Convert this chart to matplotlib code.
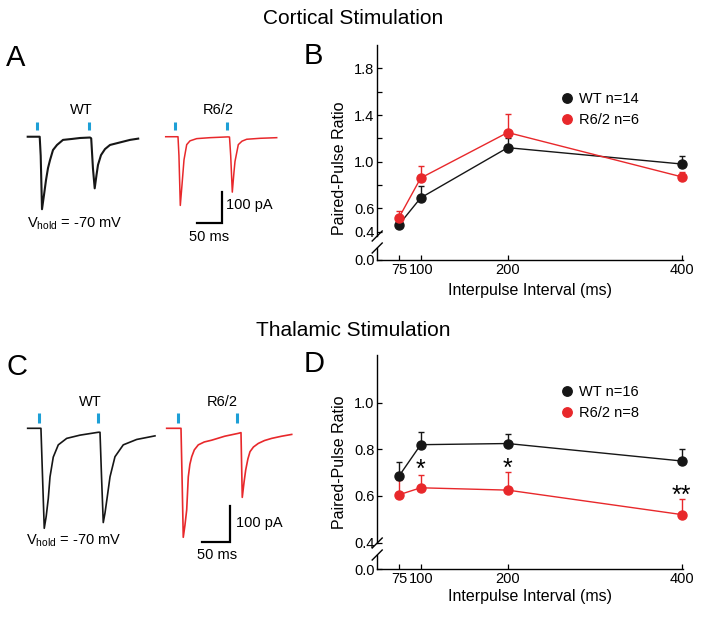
import matplotlib
matplotlib.use('Agg')
import matplotlib.pyplot as plt
from matplotlib.lines import Line2D

plt.rcParams['font.family'] = ['Liberation Sans', 'DejaVu Sans']
plt.rcParams['mathtext.fontset'] = 'custom'
plt.rcParams['mathtext.rm'] = 'Liberation Sans'

# ---- paired-pulse data ----
intervals = [75, 100, 200, 400]

ctx_wt = [0.46, 0.69, 1.12, 0.98]
ctx_wt_err = [0.05, 0.10, 0.08, 0.07]
ctx_r62 = [0.52, 0.86, 1.25, 0.87]
ctx_r62_err = [0.06, 0.10, 0.155, 0.04]

thal_wt = [0.685, 0.82, 0.825, 0.75]
thal_wt_err = [0.06, 0.055, 0.04, 0.05]
thal_r62 = [0.605, 0.635, 0.625, 0.52]
thal_r62_err = [0.065, 0.057, 0.077, 0.065]

thal_sig_x = [100, 200, 400]
thal_sig_y = [0.71, 0.715, 0.60]
thal_sig_txt = ['*', '*', '**']

# ---- example traces (ms, pA) ----
ctx_wt_t = [0, 24, 26, 28.6, 32.6, 36.6, 40.6, 44.6, 50.6, 58.6, 70.6, 88.6, 104.6,
            124.6, 127, 130.5, 134, 137.6, 140.6, 146.6, 154.6, 164.6, 184.6, 204.6, 221]
ctx_wt_i = [0, 0, -60, -229, -184, -137, -99, -74, -42, -26, -10, -7, -4,
            -2.5, -5, -100, -163, -121, -89, -58, -39, -26, -18, -10, -6]
ctx_r62_t = [0, 24.6, 26.5, 29.2, 32.6, 36.6, 42, 48.6, 62, 88.6, 124.6, 127.6,
             130, 133.2, 136.6, 138.6, 145.2, 152.6, 162, 188.6, 222]
ctx_r62_i = [0, 0, -60, -217, -152, -73, -25, -13, -6, -3, -0.5, -1,
             -60, -175, -111, -78, -25, -14, -8, -5, -3]
ctx_stim = [18, 123]

thal_wt_t = [0, 24, 27, 30, 33.5, 37.3, 40.4, 46.3, 55.4, 70.6, 94.7, 127.8,
             130.9, 133.8, 136.8, 140, 144.1, 149, 158, 173, 197.3, 230.4]
thal_wt_i = [0, 0, -140, -278, -245, -195, -135, -80, -46, -28, -19, -11,
             -11, -140, -262, -235, -190, -135, -79, -46, -31, -21]
thal_r62_t = [0, 25.9, 28, 30, 33, 36.2, 39.1, 42, 45.3, 50, 57.2, 68, 81.5, 105,
              129.6, 134.5, 135.6, 136.8, 140, 143, 147, 150.8, 157, 165.8, 177, 190,
              208, 226.3]
thal_r62_i = [0, 0, -150, -303, -270, -227, -135, -100, -79, -60, -46, -38, -33, -22,
              -14, -12, -100, -192, -150, -116, -85, -65, -52, -42, -34, -28,
              -22, -17]
thal_stim = [21, 127]

BLACK = '#161616'
RED = '#e8282b'
BLUE = '#1d9fd6'

W, H = 704, 619
fig = plt.figure(figsize=(W / 100, H / 100), dpi=100)


def fx(x):
    return x / W


def fy(y):
    return 1 - y / H


def box(l, t, r, b):
    return [l / W, 1 - b / H, (r - l) / W, (b - t) / H]


def txt(x, y, s, **kw):
    fig.text(fx(x), fy(y), s, **kw)


def trace_panel(rect, xlim, ylim, traces, stims, bar):
    ax = fig.add_axes(rect)
    ax.set_xlim(xlim)
    ax.set_ylim(ylim)
    ax.axis('off')
    for t, i, off, c, lw in traces:
        ax.plot([v + off for v in t], i, color=c, lw=lw, solid_joinstyle='round')
    for s, off, lo, hi in stims:
        for v in s:
            ax.plot([v + off, v + off], [lo, hi], color=BLUE, lw=2.2, solid_capstyle='butt')
    bx, by = bar
    ax.plot([bx - 50, bx, bx], [by, by, by + 100], color='k', lw=1.6,
            solid_joinstyle='miter')
    return ax


def ppr_panel(upper, lower, ylim, yticks, minor, wt, wt_err, r62, r62_err,
              labels, wt_on_top, slash_y, leg_y):
    ax = fig.add_axes(upper)
    axl = fig.add_axes(lower)
    for a in (ax, axl):
        a.set_xlim(50, 401)
        a.patch.set_alpha(0)
        a.spines['top'].set_visible(False)
        a.spines['right'].set_visible(False)
        a.tick_params(direction='in', length=3.5, width=0.9, labelsize=10.5, pad=2)
        for sp in a.spines.values():
            sp.set_linewidth(1.0)
    ax.spines['bottom'].set_visible(False)
    ax.set_xticks([])
    ax.set_ylim(*ylim)
    ax.set_yticks(yticks)
    ax.set_yticklabels(['%.1f' % v for v in yticks])
    ax.set_yticks(minor, minor=True)
    ax.tick_params(which='minor', direction='in', length=3.5, width=0.9)
    axl.set_ylim(0, 1)
    axl.set_yticks([0])
    axl.set_yticklabels(['0.0'])
    axl.set_xticks(intervals)
    axl.set_xticklabels([str(v) for v in intervals])

    z_wt, z_r = (4, 3) if wt_on_top else (3, 4)
    ax.errorbar(intervals, wt, yerr=[[0] * 4, wt_err], fmt='-o', color=BLACK,
                ms=6.5, lw=1.0, elinewidth=1.0, capsize=2.5, capthick=1.0,
                zorder=z_wt, clip_on=False)
    ax.errorbar(intervals, r62, yerr=[[0] * 4, r62_err], fmt='-o', color=RED,
                ms=6.5, lw=1.0, elinewidth=1.0, capsize=2.5, capthick=1.0,
                zorder=z_r, clip_on=False)

    handles = [Line2D([], [], ls='none', marker='o', ms=6.8, color=BLACK),
               Line2D([], [], ls='none', marker='o', ms=6.8, color=RED)]
    ax.legend(handles, labels, loc='upper left', bbox_to_anchor=(0.60, leg_y),
              frameon=False, fontsize=10.5, handlelength=0.9, handletextpad=0.35,
              labelspacing=0.5, borderpad=0, borderaxespad=0)

    xs = 377.2
    for y in slash_y:
        fig.add_artist(Line2D([fx(xs - 5), fx(xs + 5)], [fy(y + 5), fy(y - 5)],
                              transform=fig.transFigure, color='k', lw=1.0))
    return ax


# ---- titles ----
txt(353, 18, 'Cortical Stimulation', ha='center', va='center', fontsize=15)
txt(353, 330, 'Thalamic Stimulation', ha='center', va='center', fontsize=15)
for lab, x, y in [('A', 6, 58), ('B', 304, 56), ('C', 6, 367), ('D', 304, 364)]:
    txt(x, y, lab, ha='left', va='center', fontsize=21)

# ---- panel A ----
trace_panel(box(20, 100, 290, 245), (-15.4, 524.6), (-342, 116),
            [(ctx_wt_t, ctx_wt_i, 0, BLACK, 1.5), (ctx_r62_t, ctx_r62_i, 276, RED, 1.1)],
            [(ctx_stim, 0, 21, 47), (ctx_stim, 276, 21, 47)],
            (388, -274))
txt(81, 110, 'WT', ha='center', va='center', fontsize=10.5)
txt(218, 110, 'R6/2', ha='center', va='center', fontsize=10.5)
txt(27, 224, r'V$_\mathregular{hold}$ = -70 mV', ha='left', va='center', fontsize=10.5)
txt(226, 205, '100 pA', ha='left', va='center', fontsize=10.5)
txt(209, 237, '50 ms', ha='center', va='center', fontsize=10.5)

# ---- panel C ----
trace_panel(box(20, 395, 300, 565), (-13.9, 492.9), (-380, 92.6),
            [(thal_wt_t, thal_wt_i, 0, BLACK, 1.2), (thal_r62_t, thal_r62_i, 251.6, RED, 1.2)],
            [(thal_stim, 0, 14, 42), (thal_stim, 251.6, 14, 42)],
            (366.2, -315))
txt(90, 402, 'WT', ha='center', va='center', fontsize=10.5)
txt(222, 402, 'R6/2', ha='center', va='center', fontsize=10.5)
txt(26, 541, r'V$_\mathregular{hold}$ = -70 mV', ha='left', va='center', fontsize=10.5)
txt(236, 523, '100 pA', ha='left', va='center', fontsize=10.5)
txt(217, 555, '50 ms', ha='center', va='center', fontsize=10.5)

# ---- panel B ----
ppr_panel(box(377.2, 45, 682.6, 236), box(377.2, 248, 682.6, 260),
          (0.363, 2.0), [0.4, 0.6, 1.0, 1.4, 1.8], [0.8, 1.2, 1.6],
          ctx_wt, ctx_wt_err, ctx_r62, ctx_r62_err,
          ['WT n=14', 'R6/2 n=6'], False, [236, 248], 0.755)
txt(340, 168, 'Paired-Pulse Ratio', ha='center', va='center', rotation=90, fontsize=11.5)
txt(530, 290, 'Interpulse Interval (ms)', ha='center', va='center', fontsize=11.5)

# ---- panel D ----
axd = ppr_panel(box(377.2, 355, 682.6, 543), box(377.2, 555, 682.6, 569.3),
                (0.398, 1.205), [0.4, 0.6, 0.8, 1.0], [],
                thal_wt, thal_wt_err, thal_r62, thal_r62_err,
                ['WT n=16', 'R6/2 n=8'], True, [543, 555], 0.84)
for x, y, s in zip(thal_sig_x, thal_sig_y, thal_sig_txt):
    axd.text(x, y, s, ha='center', va='center', fontsize=18)
txt(340, 462, 'Paired-Pulse Ratio', ha='center', va='center', rotation=90, fontsize=11.5)
txt(530, 597, 'Interpulse Interval (ms)', ha='center', va='center', fontsize=11.5)

fig.savefig('out.png', dpi=100)
